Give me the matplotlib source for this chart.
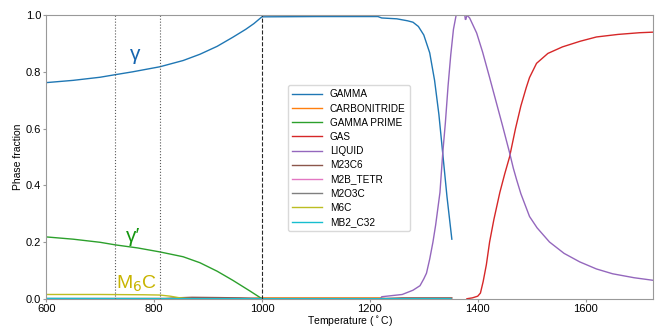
import matplotlib.pyplot as plt

plt.rcParams['font.family'] = ['Liberation Sans', 'DejaVu Sans']

# phase fraction vs temperature
T_gamma = [600, 650, 700, 728, 760, 811, 854, 885, 917, 946, 970, 985, 1000, 1100, 1215,
           1222, 1250, 1270, 1280, 1290, 1300, 1311, 1320, 1328, 1335, 1343, 1352]
gamma = [0.762, 0.770, 0.781, 0.790, 0.800, 0.818, 0.840, 0.862, 0.890, 0.922, 0.950, 0.970,
         0.994, 0.995, 0.995, 0.99, 0.987, 0.98, 0.975, 0.96, 0.93, 0.867, 0.77, 0.65,
         0.515, 0.36, 0.21]

T_gp = [600, 650, 700, 728, 770, 811, 854, 885, 917, 946, 978, 1000]
gamma_prime = [0.218, 0.210, 0.199, 0.190, 0.179, 0.165, 0.148, 0.127, 0.097, 0.065, 0.027, 0.0]

T_liq = [1220, 1222, 1260, 1280, 1293, 1300, 1305, 1311, 1317, 1322, 1330, 1335, 1340, 1345,
         1350, 1355, 1360, 1376, 1377, 1378, 1380, 1385, 1398, 1409, 1422, 1446, 1459, 1466,
         1472, 1480, 1488, 1496, 1510, 1533, 1560, 1589, 1620, 1650, 1690, 1725]
liquid = [0.0, 0.007, 0.015, 0.03, 0.046, 0.07, 0.09, 0.14, 0.2, 0.26, 0.375, 0.51, 0.62, 0.75,
          0.86, 0.95, 1.0, 1.0, 0.985, 0.985, 1.0, 0.99, 0.937, 0.87, 0.78, 0.61, 0.515, 0.46,
          0.42, 0.37, 0.33, 0.29, 0.25, 0.2, 0.16, 0.13, 0.105, 0.088, 0.074, 0.065]

T_gas = [1380, 1390, 1400, 1405, 1410, 1416, 1422, 1430, 1441, 1450, 1459, 1470, 1480, 1490,
         1496, 1509, 1530, 1557, 1590, 1620, 1660, 1700, 1725]
gas = [0.0, 0.003, 0.009, 0.02, 0.06, 0.12, 0.2, 0.28, 0.375, 0.44, 0.5, 0.6, 0.68, 0.745,
       0.78, 0.83, 0.865, 0.888, 0.908, 0.923, 0.932, 0.938, 0.94]

T_m6c = [600, 700, 780, 811, 830, 845, 860, 875]
m6c = [0.015, 0.015, 0.014, 0.013, 0.009, 0.004, 0.001, 0.0]

T_m23 = [600, 820, 840, 870, 920, 960, 990, 1000, 1220, 1260, 1352]
m23c6 = [0.0, 0.0, 0.003, 0.005, 0.004, 0.003, 0.001, 0.0, 0.0, 0.003, 0.003]

T_carb = [600, 980, 1000, 1100, 1220, 1230]
carbonitride = [0.0, 0.001, 0.003, 0.003, 0.003, 0.0]

T_small = [600, 1000, 1350]
m2b = [0.0, 0.0, 0.0]
m2o3c = [0.001, 0.001, 0.001]
mb2 = [0.001, 0.0, 0.0]

fig, ax = plt.subplots(figsize=(6.59, 3.29), dpi=100)
ax.plot(T_gamma, gamma, color='tab:blue', lw=1, label='GAMMA')
ax.plot(T_carb, carbonitride, color='tab:orange', lw=1, label='CARBONITRIDE')
ax.plot(T_gp, gamma_prime, color='tab:green', lw=1, label='GAMMA PRIME')
ax.plot(T_gas, gas, color='tab:red', lw=1, label='GAS')
ax.plot(T_liq, liquid, color='tab:purple', lw=1, label='LIQUID')
ax.plot(T_m23, m23c6, color='tab:brown', lw=1, label='M23C6')
ax.plot(T_small, m2b, color='tab:pink', lw=1, label='M2B_TETR')
ax.plot(T_small, m2o3c, color='tab:gray', lw=1, label='M2O3C')
ax.plot(T_m6c, m6c, color='tab:olive', lw=1, label='M6C')
ax.plot(T_small, mb2, color='tab:cyan', lw=1, label='MB2_C32')

ax.axvline(728, color='0.35', ls=':', lw=0.8)
ax.axvline(811, color='0.35', ls=':', lw=0.8)
ax.axvline(1000, color='0.15', ls='--', lw=0.8)

ax.text(765, 0.86, 'γ', color='#1565b0', fontsize=15, ha='center', va='center')
ax.text(761, 0.22, 'γ′', color='#14960f', fontsize=15, ha='center', va='center')
ax.text(768, 0.053, 'M$_6$C', color='#c8b400', fontsize=14, ha='center', va='center')

ax.set_xlim(600, 1725)
ax.set_ylim(0, 1)
ax.set_xticks([600, 800, 1000, 1200, 1400, 1600])
ax.set_yticks([0, 0.2, 0.4, 0.6, 0.8, 1.0])
ax.tick_params(labelsize=8, length=2, pad=1.5, color='0.6')
for s in ax.spines.values():
    s.set_color('0.6')
ax.set_xlabel('Temperature ($^\\circ$C)', fontsize=7.5, labelpad=0)
ax.set_ylabel('Phase fraction', fontsize=7.5, labelpad=2)

ax.legend(loc='upper left', bbox_to_anchor=(0.39, 0.77), fontsize=7.2, frameon=True,
          framealpha=1, edgecolor='0.85', handlelength=3, labelspacing=0.42)

fig.subplots_adjust(left=0.07, right=0.991, top=0.954, bottom=0.092)
fig.savefig('out.png', dpi=100)
